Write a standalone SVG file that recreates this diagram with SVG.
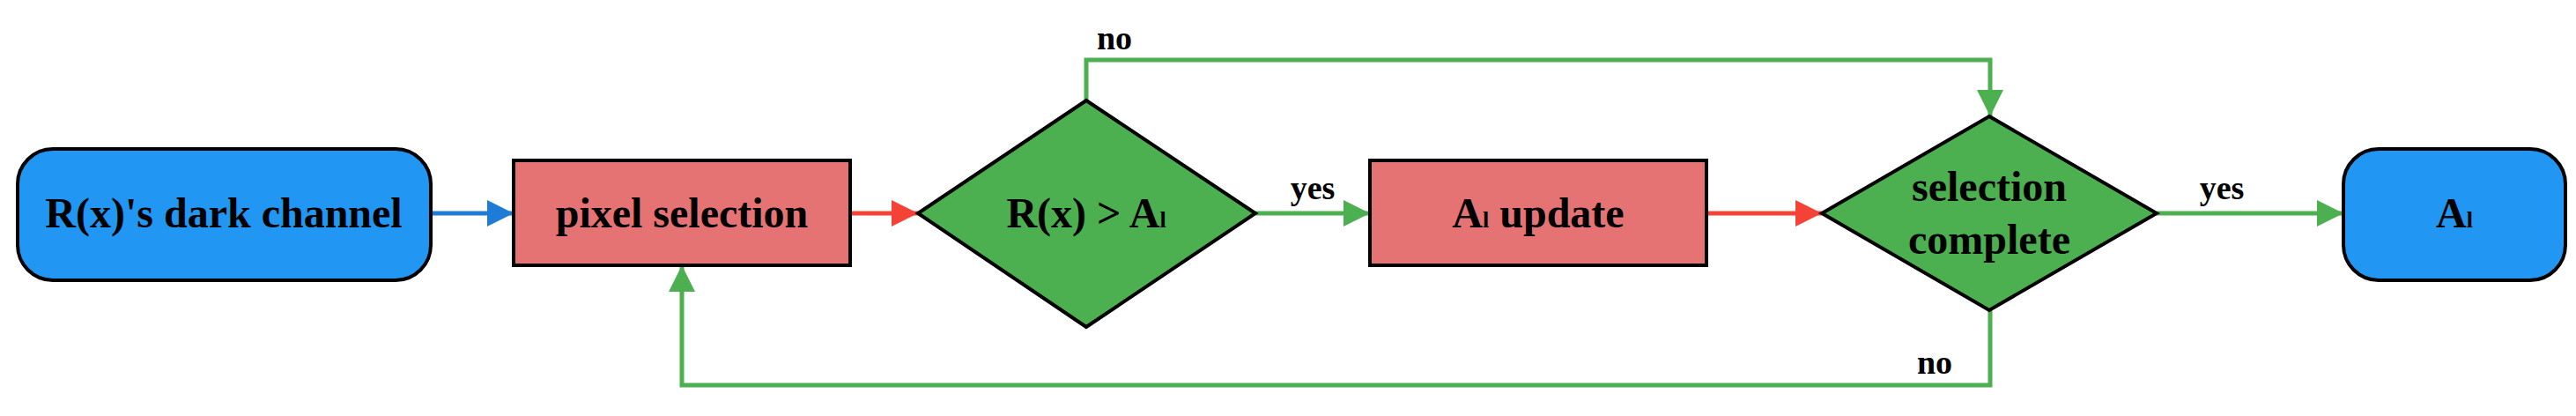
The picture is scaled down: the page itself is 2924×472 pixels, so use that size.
<svg xmlns="http://www.w3.org/2000/svg" width="2924" height="472" viewBox="0 0 2924 472">
<style>
text{font-family:"Liberation Serif","Times New Roman",serif;font-weight:bold;fill:#000;text-anchor:middle}
.n{font-size:48px}
.l{font-size:38px}
.term{fill:#2196F3;stroke:#000;stroke-width:4}
.proc{fill:#E57373;stroke:#000;stroke-width:4}
.dec{fill:#4CAF50;stroke:#000;stroke-width:4}
.c{fill:none;stroke-width:5}
.g{stroke:#4CAF50}.r{stroke:#F44336}.b{stroke:#1E7BD6}
</style>
<defs>
<marker id="ag" viewBox="0 0 10 10" refX="10" refY="5" markerWidth="7" markerHeight="6" markerUnits="strokeWidth" orient="auto"><path d="M0,0L10,5L0,10z" fill="#4CAF50"/></marker>
<marker id="ar" viewBox="0 0 10 10" refX="10" refY="5" markerWidth="7" markerHeight="6" markerUnits="strokeWidth" orient="auto"><path d="M0,0L10,5L0,10z" fill="#F44336"/></marker>
<marker id="ab" viewBox="0 0 10 10" refX="10" refY="5" markerWidth="7" markerHeight="6" markerUnits="strokeWidth" orient="auto"><path d="M0,0L10,5L0,10z" fill="#1E7BD6"/></marker>
</defs>
<g id="connectors">
<path class="c b" d="M489,242H583" marker-end="url(#ab)"/>
<path class="c r" d="M965,242H1042" marker-end="url(#ar)"/>
<path class="c g" d="M1425,242H1555" marker-end="url(#ag)"/>
<path class="c r" d="M1937,242H2068" marker-end="url(#ar)"/>
<path class="c g" d="M2448,242H2660" marker-end="url(#ag)"/>
<path class="c g" d="M1233,114V68H2259V132" marker-end="url(#ag)"/>
<path class="c g" d="M2259,352V437H774V301" marker-end="url(#ag)"/>
<text class="l" x="1265" y="56">no</text>
<text class="l" x="1490" y="226">yes</text>
<text class="l" x="2522" y="226">yes</text>
<text class="l" x="2196" y="424">no</text>
</g>
<g id="start"><rect class="term" x="20" y="169" width="469" height="149" rx="40" ry="40"/><text class="n" x="254" y="258">R(x)'s dark channel</text></g>
<g id="pixel-selection"><rect class="proc" x="583" y="182" width="382" height="119"/><text class="n" x="774" y="258">pixel selection</text></g>
<g id="compare"><polygon class="dec" points="1233,114 1425,242 1233,371 1042,242"/><text class="n" x="1233" y="258">R(x) &gt; A<tspan font-size="26">l</tspan></text></g>
<g id="update"><rect class="proc" x="1555" y="182" width="382" height="119"/><text class="n" x="1746" y="258">A<tspan font-size="26">l</tspan> update</text></g>
<g id="complete"><polygon class="dec" points="2258,132 2448,242 2258,352 2068,242"/><text class="n" x="2258" y="228">selection</text><text class="n" x="2258" y="288">complete</text></g>
<g id="end"><rect class="term" x="2660" y="169" width="252" height="149" rx="40" ry="40"/><text class="n" x="2786" y="258">A<tspan font-size="26">l</tspan></text></g>
</svg>
